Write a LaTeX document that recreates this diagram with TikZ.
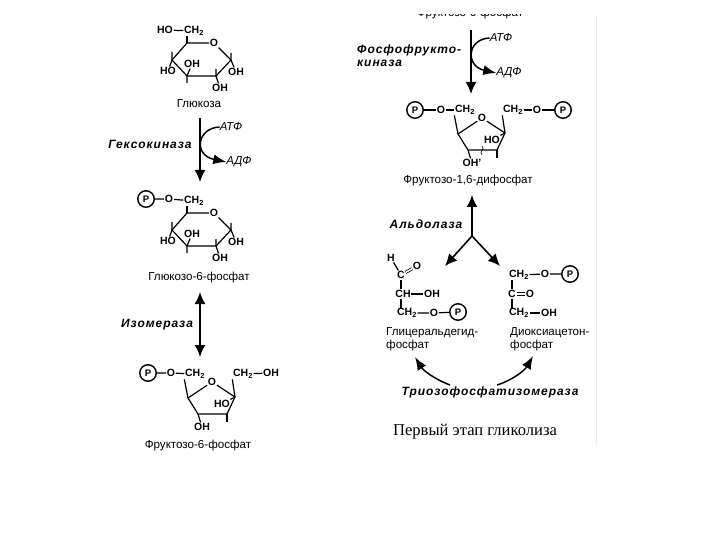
\documentclass[tikz,border=0pt]{standalone}
\usepackage{fontspec}
\setmainfont{Liberation Sans}
\newfontfamily\capfont{Liberation Serif}
\newfontfamily\enzfont[LetterSpace=8]{Liberation Sans}
\usetikzlibrary{arrows.meta}
\newcommand{\chtwo}{CH\textsubscript{2}}
\tikzset{
	atom/.style={font=\fontsize{10.5}{11}\selectfont\bfseries, inner sep=0.6pt},
	pcirc/.style={circle, draw, line width=1.4pt, inner sep=0pt, minimum size=16.5pt, font=\fontsize{9.5}{10}\selectfont\bfseries},
	bond/.style={line width=1.2pt},
	dbond/.style={double, double distance=1.5pt, line width=0.8pt},
	sugar/.style={font=\fontsize{11.6}{13}\selectfont, inner sep=0pt},
	enz/.style={font=\fontsize{12}{12.5}\selectfont\enzfont\bfseries\itshape, inner sep=0pt},
	cof/.style={font=\fontsize{11.5}{12}\selectfont\itshape, inner sep=0pt},
	react/.style={line width=1.6pt, -{Latex[length=12pt,width=11pt]}},
	both/.style={line width=1.6pt, {Latex[length=12pt,width=11pt]}-{Latex[length=12pt,width=11pt]}},
	side/.style={line width=1.5pt, -{Latex[length=13pt,width=10pt]}}
}
\begin{document}
\begin{tikzpicture}[x=1pt,y=-1pt]
\useasboundingbox (0,0) rectangle (720,540);
% panel edge
\draw[black!8, line width=1pt] (596,15) -- (596,445);
% glucose rings
\foreach \s / \dy in {a/0, b/170}
{
	\coordinate (\s1) at (187,43+\dy);
	\node[atom] (\s o) at (214,43+\dy) {O};
	\coordinate (\s2) at (231,60+\dy);
	\coordinate (\s3) at (216,76+\dy);
	\coordinate (\s4) at (187,76+\dy);
	\coordinate (\s5) at (172,60+\dy);
	\node[atom] (\s ch) at (194,31+\dy) {\chtwo};
	\node[atom] (\s l) at (168,71+\dy) {HO};
	\node[atom] (\s i) at (192,64+\dy) {OH};
	\node[atom] (\s r) at (236,72+\dy) {OH};
	\node[atom] (\s b) at (220,88+\dy) {OH};
	\coordinate (\s t) at (172,52+\dy);
	\coordinate (\s u) at (231,53+\dy);
	\coordinate (\s v) at (216,69+\dy);
	\coordinate (\s w) at (187,83+\dy);
	\draw[bond] (\s1) -- (\s o) -- (\s2) -- (\s3) -- (\s4) -- (\s5) -- (\s1);
	\draw[bond] (\s1) -- (187,36+\dy);
	\draw[bond] (\s t) -- (\s5) -- (\s l);
	\draw[bond] (\s u) -- (\s2) -- (\s r);
	\draw[bond] (\s v) -- (\s3) -- (\s b);
	\draw[bond] (\s w) -- (\s4) -- (\s i);
}
\node[atom] (aho) at (165,30) {HO};
\draw[bond] (aho) -- (ach);
\node[sugar] (glc) at (199,104) {Глюкоза};
\node[pcirc] (bp) at (146,199) {P};
\node[atom] (bo) at (169,199) {O};
\draw[bond] (bp) -- (bo) -- (bch);
\node[sugar] (gsf) at (199,277) {Глюкозо-6-фосфат};
% fructose rings
\foreach \s / \dx / \dy / \h in {c/0/0/OH, d/270/-264/OH'}
{
	\node[atom] (\s o) at (212+\dx,382+\dy) {O};
	\coordinate (\s1) at (235+\dx,397+\dy);
	\coordinate (\s2) at (227+\dx,414+\dy);
	\coordinate (\s3) at (198+\dx,414+\dy);
	\coordinate (\s4) at (188+\dx,398+\dy);
	\node[atom] (\s ch) at (195+\dx,374+\dy) {\chtwo};
	\node[atom] (\s t) at (243+\dx,374+\dy) {\chtwo};
	\node[atom] (\s i) at (222+\dx,404+\dy) {HO};
	\node[atom] (\s b) at (202+\dx,427+\dy) {\h};
	\coordinate (\s w) at (227+\dx,422+\dy);
	\draw[bond] (\s o) -- (\s1) -- (\s2) -- (\s3) -- (\s4) -- (\s o);
	\draw[bond] (\s4) -- (\s ch.south west);
	\draw[bond] (\s1) -- (\s t.south west);
	\draw[bond] (\s1) -- (\s i);
	\draw[bond] (\s3) -- (\s b);
	\draw[bond] (\s2) -- (\s w);
}
\node[pcirc] (cp) at (148,373) {P};
\node[atom] (co2) at (171,373) {O};
\draw[bond] (cp) -- (co2) -- (cch);
\node[atom] (coh) at (271,373) {OH};
\draw[bond] (ct) -- (coh);
\node[sugar] (fsf) at (198,445) {Фруктозо-6-фосфат};
\node[pcirc] (dp) at (415,110) {P};
\node[atom] (do2) at (441,110) {O};
\draw[bond] (dp) -- (do2) -- (dch);
\node[atom] (do3) at (537,110) {O};
\node[pcirc] (dq) at (563,110) {P};
\draw[bond] (dt) -- (do3) -- (dq);
\coordinate (dw1) at (482,146);
\coordinate (dw2) at (482,155);
\draw[line width=0.6pt] (dw1) .. controls (486,149) and (478,152) .. (dw2);
\node[sugar] (fdf) at (468,181) {Фруктозо-1,6-дифосфат};
% cut off name at the top
\begin{scope}
\clip (400,15) rectangle (540,30);
\node[sugar] (ftop) at (470,14) {Фруктозо-6-фосфат};
\end{scope}
% glyceraldehyde phosphate
\node[atom] (h) at (391,258) {H};
\node[atom] (c1) at (401,275) {C};
\node[atom] (oo) at (417,266) {O};
\node[atom] (c2) at (403,294) {CH};
\node[atom] (oh2) at (432,294) {OH};
\node[atom] (c3) at (407,313) {\chtwo};
\node[atom] (o3) at (434,313) {O};
\node[pcirc] (p3) at (458,312) {P};
\draw[bond] (h) -- (c1);
\draw[dbond] (c1) -- (oo);
\draw[bond] (c1) -- (c1 |- c2.north);
\draw[bond] (c2) -- (oh2);
\draw[bond] (c1 |- c2.south) -- (c1 |- c3.north);
\draw[bond] (c3) -- (o3) -- (p3);
\node[sugar, align=left, anchor=north west] (gap) at (386,327) {Глицеральдегид-\\фосфат};
% dihydroxyacetone phosphate
\node[atom] (e1) at (519,275) {\chtwo};
\node[atom] (eo) at (545,274) {O};
\node[pcirc] (ep) at (570,274) {P};
\node[atom] (e2) at (512,294) {C};
\node[atom] (eoo) at (530,294) {O};
\node[atom] (e3) at (519,313) {\chtwo};
\node[atom] (eoh) at (549,313) {OH};
\draw[bond] (e1) -- (eo) -- (ep);
\draw[bond] (e2 |- e1.south) -- (e2);
\draw[dbond] (e2) -- (eoo);
\draw[bond] (e2) -- (e2 |- e3.north);
\draw[bond] (e3) -- (eoh);
\node[sugar, align=left, anchor=north west] (dap) at (510,327) {Диоксиацетон-\\фосфат};
% hexokinase
\coordinate (h1) at (200,118);
\coordinate (h2) at (200,182);
\draw[react] (h1) -- (h2);
\node[enz] (hex) at (150,144) {Гексокиназа};
\node[cof] (atp) at (231,127) {АТФ};
\node[cof] (adp) at (239,162) {АДФ};
\draw[side] (atp.west) .. controls (197,128) and (193,155) .. (adp.west);
% isomerase
\coordinate (i1) at (200,292);
\coordinate (i2) at (200,357);
\draw[both] (i1) -- (i2);
\node[enz] (iso) at (157,325) {Изомераза};
% phosphofructokinase
\coordinate (k1) at (471,30);
\coordinate (k2) at (471,94);
\draw[react] (k1) -- (k2);
\node[enz, align=left, anchor=north west] (pfk) at (357,45) {Фосфофрукто-\\киназа};
\node[cof] (atp2) at (501,38) {АТФ};
\node[cof] (adp2) at (509,73) {АДФ};
\draw[side] (atp2.west) .. controls (467,39) and (465,66) .. (adp2.west);
% aldolase
\coordinate (y0) at (472,236);
\coordinate (y1) at (472,195);
\coordinate (y2) at (445,266);
\coordinate (y3) at (500,266);
\draw[react] (y0) -- (y1);
\draw[react] (y0) -- (y2);
\draw[react] (y0) -- (y3);
\node[enz] (ald) at (426,224) {Альдолаза};
% triose phosphate isomerase
\node[enz] (tim) at (490,392) {Триозофосфатизомераза};
\coordinate (t1) at (415,357);
\coordinate (t2) at (533,356);
\coordinate (t3) at (450,385);
\coordinate (t4) at (497,385);
\draw[side] (t3) .. controls (434,379) and (423,370) .. (t1);
\draw[side] (t4) .. controls (513,380) and (525,370) .. (t2);
\node[font=\fontsize{16.6}{18}\selectfont\capfont, inner sep=0pt] (cap) at (475,432) {Первый этап гликолиза};
\end{tikzpicture}
\end{document}
